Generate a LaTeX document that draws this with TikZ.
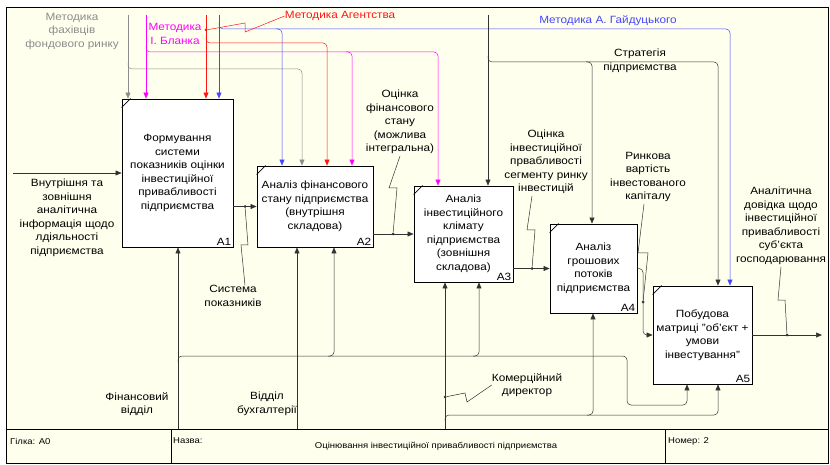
\documentclass[tikz,border=0pt]{standalone}
\usepackage{fontspec}
\setmainfont{Liberation Sans}[FakeStretch=1.12]
\usetikzlibrary{arrows.meta}
\definecolor{paper}{RGB}{255,255,238}
\definecolor{ink}{RGB}{50,50,50}
\definecolor{idgray}{RGB}{140,140,140}
\definecolor{idmag}{RGB}{255,0,255}
\definecolor{idred}{RGB}{255,20,20}
\definecolor{idblue}{RGB}{70,70,255}
\tikzset{
  box/.style={draw,line width=0.9pt,fill=white,align=center,inner sep=1pt},
  lbl/.style={align=center,inner sep=0pt},
  flow/.style={ink,line width=0.5pt,rounded corners=4pt,-{Triangle[length=6pt,width=5pt]}},
  leader/.style={ink,line width=0.5pt},
  dot/.style={circle,fill=ink,inner sep=0pt,minimum size=3pt},
  panel/.style={anchor=west,inner sep=0pt,font=\fontsize{8.5}{10}\selectfont}
}
\begin{document}
\begin{tikzpicture}[x=1pt,y=-1pt,font=\fontsize{10.5}{13.5}\selectfont]
        \useasboundingbox (0,0) rectangle (830,465);
        % frame
        \fill[paper] (6,8) rectangle (828,463);
        \draw[line width=1pt] (6,8) rectangle (828,463);
        \draw[line width=0.8pt] (6,429) -- (828,429) (171,429) -- (171,463) (665,429) -- (665,463);
        \node[panel] (br) at (10,441) {Гілка: A0};
        \node[panel] (nm) at (173,441) {Назва:};
        \node[panel,anchor=center] (tt) at (436,446) {Оцінювання інвестиційної привабливості підприємства};
        \node[panel] (no) at (668,441) {Номер: 2};
        % boxes
        \node[box,minimum width=111,minimum height=148] (A1) at (177.5,173)
          {Формування\\системи\\показників оцінки\\інвестиційної\\привабливості\\підприємства};
        \node[box,minimum width=116,minimum height=81] (A2) at (315,206.5)
          {Аналіз фінансового\\стану підприємства\\(внутрішня\\складова)};
        \node[box,minimum width=99,minimum height=96] (A3) at (463.5,234)
          {Аналіз\\інвестиційного\\клімату\\підприємства\\(зовнішня\\складова)};
        \node[box,minimum width=87,minimum height=89] (A4) at (593.5,268.5)
          {Аналіз\\грошових\\потоків\\підприємства};
        \node[box,minimum width=99,minimum height=98] (A5) at (702.5,335)
          {Побудова\\матриці "об'єкт +\\умови\\інвестування"};
        \foreach \b in {A1,A2,A3,A4,A5}{
          \draw[line width=0.6pt] ([yshift=-9pt]\b.north west) -- ([xshift=9pt]\b.north west);
          \node[anchor=south east,inner sep=2pt] (\b no) at (\b.south east) {\b};
        }
        % controls
        \coordinate (gr0) at (128,15);
        \coordinate (gr2) at (302,69);
        \coordinate (mg0) at (146,15);
        \coordinate (mg2) at (352,52);
        \coordinate (mg3) at (438,52);
        \coordinate (rd0) at (206,15);
        \coordinate (rd2) at (327,43);
        \coordinate (bl0) at (219,15);
        \coordinate (bl2) at (282,29);
        \coordinate (bl5) at (730,29);
        \coordinate (st0) at (488,15);
        \coordinate (st4) at (592,62);
        \coordinate (st5) at (718,62);
        \draw[flow,idgray] (gr0) -- (gr0 |- A1.north);
        \draw[flow,idgray] (gr0 |- gr2) ++(0,-6) |- (gr2) -- (gr2 |- A2.north);
        \draw[flow,idmag] (mg0) -- (mg0 |- A1.north);
        \draw[flow,idmag] (mg0 |- mg3) ++(0,-6) |- (mg3) -- (mg3 |- A3.north);
        \draw[flow,idmag] (mg2) ++(-6,0) -| (mg2 |- A2.north);
        \draw[flow,idred] (rd0) -- (rd0 |- A1.north);
        \draw[flow,idred] (rd0 |- rd2) ++(0,-6) |- (rd2) -- (rd2 |- A2.north);
        \draw[flow,idblue] (bl0) -- (bl0 |- A1.north);
        \draw[flow,idblue] (bl0 |- bl5) ++(0,-6) |- (bl5) -- (bl5 |- A5.north);
        \draw[flow,idblue] (bl2) ++(-6,0) -| (bl2 |- A2.north);
        \draw[flow] (st0) -- (st0 |- A3.north);
        \draw[flow] (st0 |- st5) ++(0,-6) |- (st5) -- (st5 |- A5.north);
        \draw[flow] (st4) ++(-6,0) -| (st4 |- A4.north);
        \node[lbl,idgray] (mf) at (72,31) {Методика\\фахівців\\фондового ринку};
        \node[lbl,idmag] (mb) at (175,34) {Методика\\І. Бланка};
        \node[lbl,idred] (ma) at (340,16) {Методика Агентства};
        \node[lbl,idblue] (mg) at (608,21) {Методика А. Гайдуцького};
        \node[lbl] (sp) at (640,61) {Стратегія\\підприємства};
        \node[dot,fill=idred] (dra) at (206,30) {};
        \draw[leader,idred] (dra) -- (245,23) -- (245,32) -- (ma.west);
        % mechanisms
        \coordinate (fv0) at (178,429);
        \coordinate (fv2) at (334,356);
        \coordinate (fv3) at (479,356);
        \coordinate (fv5) at (627,356);
        \coordinate (fv6) at (687,405);
        \coordinate (bu0) at (297,429);
        \coordinate (kd0) at (445,429);
        \coordinate (kd4) at (593,415);
        \coordinate (kd5) at (718,415);
        \draw[flow] (fv0) -- (fv0 |- A1.south);
        \draw[flow] (fv0 |- fv5) ++(0,6) |- (fv5) |- (fv6) -- (fv6 |- A5.south);
        \draw[flow] (fv2) ++(-6,0) -| (fv2 |- A2.south);
        \draw[flow] (fv3) ++(-6,0) -| (fv3 |- A3.south);
        \draw[flow] (bu0) -- (bu0 |- A2.south);
        \draw[flow] (kd0) -- (kd0 |- A3.south);
        \draw[flow] (kd0 |- kd5) ++(0,6) |- (kd5) -- (kd5 |- A5.south);
        \draw[flow] (kd4) ++(-6,0) -| (kd4 |- A4.south);
        \node[lbl] (fv) at (137,404) {Фінансовий\\відділ};
        \node[lbl] (bu) at (267,404) {Відділ\\бухгалтерії};
        \node[lbl] (kd) at (527,385) {Комерційний\\директор};
        \node[dot] (dkd) at (445,397) {};
        \draw[leader] (dkd) -- (465,393) -- (467,402) -- (kd.west);
        % inputs and outputs
        \coordinate (in0) at (13,173);
        \coordinate (a45) at (643,302);
        \coordinate (out0) at (822,335);
        \draw[flow] (in0) -- (A1.west);
        \draw[flow] (A1.east |- A2.west) -- (A2.west);
        \draw[flow] (A2.east |- A3.west) -- (A3.west);
        \draw[flow] (A3.east |- A4.west) -- (A4.west);
        \draw[flow] (A4.east) -| (a45) |- (A5.west);
        \draw[flow] (A5.east) -- (out0);
        \node[lbl] (inp) at (67,218) {Внутрішня та\\зовнішня\\аналітична\\інформація щодо\\лдіяльності\\підприємства};
        \node[lbl] (sy) at (233,296) {Система\\показників};
        \node[lbl] (ofs) at (400,122) {Оцінка\\фінансового\\стану\\(можлива\\інтегральна)};
        \node[lbl] (oip) at (546,162) {Оцінка\\інвестиційної\\првабливості\\сегменту ринку\\інвестицій};
        \node[lbl] (rvk) at (648,177) {Ринкова\\вартість\\інвестованого\\капіталу};
        \node[lbl] (adi) at (781,226) {Аналітична\\довідка щодо\\інвестиційної\\привабливості\\суб'єкта\\господарювання};
        % label leaders
        \node[dot] (d12) at (245,206.5) {};
        \node[dot] (d23) at (393,234) {};
        \node[dot] (d34) at (532,268.5) {};
        \node[dot] (d45) at (643,302) {};
        \node[dot] (d5o) at (787,335) {};
        \draw[leader] (d12) -- (248,245) -- (241,245) -- ([xshift=12pt]sy.north);
        \draw[leader] (d23) -- (397,188) -- (389,188) -- ([yshift=-2pt]ofs.south);
        \draw[leader] (d34) -- (535,230) -- (527,230) -- ([xshift=-14pt,yshift=-2pt]oip.south);
        \draw[leader] (d45) -- (648,253) -- (638,253) -- ([xshift=-4pt,yshift=-2pt]rvk.south);
        \draw[leader] (d5o) -- (785,300) -- (778,300) -- ([yshift=-2pt]adi.south);
\end{tikzpicture}
\end{document}
